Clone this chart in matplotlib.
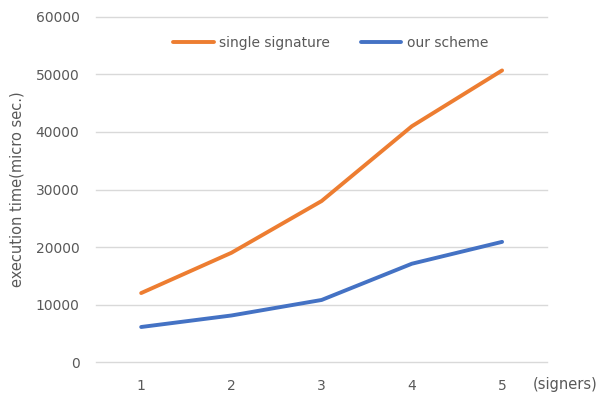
import matplotlib.pyplot as plt

signers = [1, 2, 3, 4, 5]
single_signature = [12000, 19000, 28000, 41000, 50700]
our_scheme = [6100, 8100, 10800, 17100, 20900]
yticks = [0, 10000, 20000, 30000, 40000, 50000, 60000]


def main():
    fig = plt.figure(figsize=(6.08, 3.94), dpi=100)
    ax = fig.add_axes([0.158, 0.081, 0.742, 0.876])
    gray = '#595959'

    ax.plot(signers, single_signature, color='#ED7D31', lw=2.8,
            solid_capstyle='round', solid_joinstyle='round', label='single signature')
    ax.plot(signers, our_scheme, color='#4472C4', lw=2.8,
            solid_capstyle='round', solid_joinstyle='round', label='our scheme')

    ax.set_xlim(0.5, 5.5)
    ax.set_ylim(0, 60000)
    ax.set_xticks(signers)
    ax.set_yticks(yticks)
    ax.grid(axis='y', color='#D9D9D9', lw=1)
    for gl in ax.get_ygridlines():
        gl.set_clip_on(False)
    ax.set_axisbelow(True)
    for s in ax.spines.values():
        s.set_visible(False)
    ax.tick_params(length=0, labelsize=10, labelcolor=gray)
    ax.tick_params(axis='y', pad=12)
    ax.tick_params(axis='x', pad=12)

    ax.set_ylabel('execution time(micro sec.)', fontsize=10.5, color=gray, labelpad=8)
    ax.text(1.04, -0.065, '(signers)', transform=ax.transAxes, fontsize=10.5,
            color=gray, ha='center', va='center')

    ax.legend(loc='center', bbox_to_anchor=(0.52, 0.925), ncol=2, frameon=False,
              handlelength=2.9, columnspacing=2.2, handletextpad=0.4,
              fontsize=10, labelcolor=gray)

    fig.savefig('out.png')


if __name__ == "__main__":
    main()
